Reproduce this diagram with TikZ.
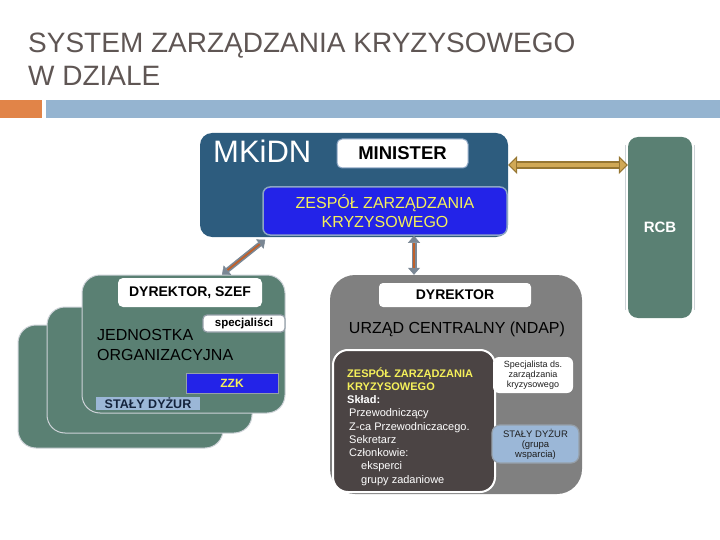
\documentclass[tikz,border=0pt]{standalone}
\usepackage{fontspec}
\setmainfont{Liberation Sans}
\usetikzlibrary{fit,arrows.meta}
\definecolor{titlegray}{RGB}{95,86,84}
\definecolor{orangebar}{RGB}{225,132,72}
\definecolor{bluebar}{RGB}{149,180,208}
\definecolor{mkblue}{RGB}{45,92,126}
\definecolor{edgeblue}{RGB}{140,165,195}
\definecolor{zzkblue}{RGB}{35,35,232}
\definecolor{zzkyellow}{RGB}{245,240,90}
\definecolor{unitteal}{RGB}{90,128,115}
\definecolor{unitedge}{RGB}{205,210,215}
\definecolor{edgegray}{RGB}{150,160,170}
\definecolor{lightblue}{RGB}{155,183,215}
\definecolor{navy}{RGB}{20,35,60}
\definecolor{urzadgray}{RGB}{128,128,128}
\definecolor{darkbox}{RGB}{75,68,68}
\definecolor{textdark}{RGB}{30,30,30}
\definecolor{linkgray}{RGB}{122,135,148}
\definecolor{linkbrown}{RGB}{192,96,42}
\definecolor{goldedge}{RGB}{150,118,50}
\definecolor{goldfill}{RGB}{208,168,85}
\newcommand{\sz}[2]{\fontsize{#1}{#2}\selectfont}
\begin{document}
\begin{tikzpicture}[x=1pt,y=-1pt,
		box/.style={inner sep=0pt,rounded corners=#1},box/.default=0pt,
		lbl/.style={inner sep=0pt,align=center},
		unit/.style={box=18pt,fill=unitteal,draw=unitedge,line width=1pt},
		title/.style={inner sep=0pt,anchor=base west,text=titlegray,font=\sz{28}{32}},
		rcbline/.style={draw=unitedge,line width=0.8pt},
		link/.style={draw=linkgray,line width=5pt,
			>={Triangle[length=7pt,width=12pt,line width=0.5pt,fill=linkgray]},<->,
			postaction={draw=linkbrown,line width=1.8pt,-,shorten <=7pt,shorten >=7pt}},
		goldlink/.style={draw=goldedge,line width=8pt,
			>={Triangle[length=9pt,width=18pt,line width=1pt,fill=goldfill]},<->,
			postaction={draw=goldfill,line width=4pt,-,shorten <=9pt,shorten >=9pt}}]
	\useasboundingbox (0,0) rectangle (720,540);
	% naglowek
	\node[box,fill=orangebar,fit={(0,100) (42,118)}] (tab) {};
	\node[box,fill=bluebar,fit={(46,100) (720,118)}] (bar) {};
	\node[title] (title1) at (28,53) {SYSTEM ZARZĄDZANIA KRYZYSOWEGO};
	\node[title] (title2) at (28,86) {W DZIALE};
	% ministerstwo
	\node[box=12pt,fill=mkblue,fit={(200,133) (508,237)}] (mkidn) {};
	\node[anchor=base west,inner sep=0pt,text=white,font=\sz{31}{36}] (mkidnlbl) at (213,163) {MKiDN};
	\node[box=5pt,fill=white,draw=edgeblue,line width=1pt,fit={(337,139) (468,168)}] (minister) {};
	\node[lbl,font=\bfseries\sz{18.5}{22}] (ministerlbl) at (minister.center) {MINISTER};
	\node[box=7pt,fill=zzkblue,draw=edgeblue,line width=1.5pt,fit={(263,187) (507,235)}] (zzk) {};
	\node[lbl,text=zzkyellow,font=\sz{16}{19}] (zzklbl) at (zzk.center) {ZESPÓŁ ZARZĄDZANIA\\KRYZYSOWEGO};
	% rcb
	\node[box=10pt,fill=unitteal,fit={(628,137) (692,318)}] (rcb) {};
	\node[lbl,text=white,font=\bfseries\sz{15}{18}] (rcblbl) at (rcb.center) {RCB};
	\draw[rcbline] ([xshift=-2pt,yshift=-8pt]rcb.north west) -- ([xshift=-2pt,yshift=8pt]rcb.south west);
	\draw[rcbline] ([xshift=2pt,yshift=-8pt]rcb.north east) -- ([xshift=2pt,yshift=8pt]rcb.south east);
	\coordinate (g) at (0,165);
	\draw[goldlink] (mkidn.east |- g) -- (rcb.west |- g);
	% jednostki organizacyjne
	\node[unit,fit={(18,325) (223,448)}] (unit3) {};
	\node[unit,fit={(47,307) (252,433)}] (unit2) {};
	\node[unit,fit={(82,275) (285,413)}] (unit1) {};
	\node[box=5pt,fill=white,fit={(118,278) (262,307)}] (szef) {};
	\node[lbl,font=\bfseries\sz{14}{17}] (szeflbl) at (szef.center) {DYREKTOR, SZEF};
	\node[box=4pt,fill=white,draw=edgegray,line width=1.2pt,fit={(203,315) (285,332)}] (spec) {};
	\node[lbl,font=\bfseries\sz{11.5}{14}] (speclbl) at (spec.center) {specjaliści};
	\node[anchor=base west,inner sep=0pt,align=left,font=\sz{16}{20}] (unitlbl) at (97,360) {JEDNOSTKA\\ORGANIZACYJNA};
	\node[box,fill=zzkblue,draw=edgegray,line width=0.8pt,fit={(186,373) (278,393)}] (zzkunit) {};
	\node[lbl,text=zzkyellow,font=\bfseries\sz{12}{14}] (zzkunitlbl) at (zzkunit.center) {ZZK};
	\node[box,fill=lightblue,fit={(96,397) (200,410)}] (dyzunit) {};
	\node[lbl,text=navy,font=\bfseries\sz{12.5}{14}] (dyzunitlbl) at (dyzunit.center) {STAŁY DYŻUR};
	% urzad centralny
	\node[box=25pt,fill=urzadgray,fit={(330,275) (582,494)}] (urzad) {};
	\node[box=4pt,fill=white,fit={(379,283) (531,307)}] (dyr) {};
	\node[lbl,font=\bfseries\sz{14}{17}] (dyrlbl) at (dyr.center) {DYREKTOR};
	\node[anchor=base,inner sep=0pt,font=\sz{16}{19}] (urzadlbl) at (457,333) {URZĄD CENTRALNY (NDAP)};
	\node[box=15pt,fill=darkbox,draw=white,line width=2pt,fit={(333,350) (495,492)}] (zzkurz) {};
	\node[anchor=base west,inner sep=0pt,align=left,text=white,font=\sz{11}{13.25}] (zzkurzlbl) at (347,483)
		{\textcolor{zzkyellow}{\bfseries ZESPÓŁ ZARZĄDZANIA}\\
		\textcolor{zzkyellow}{\bfseries KRYZYSOWEGO}\\
		\textbf{Skład:}\\
		\hspace{2pt}Przewodniczący\\
		\hspace{2pt}Z-ca Przewodniczacego.\\
		\hspace{2pt}Sekretarz\\
		\hspace{2pt}Członkowie:\\
		\hspace{14pt}eksperci\\
		\hspace{14pt}grupy zadaniowe};
	\node[box=6pt,fill=white,fit={(493,357) (573,393)}] (specurz) {};
	\node[lbl,text=textdark,font=\sz{9}{10}] (specurzlbl) at (specurz.center) {Specjalista ds.\\zarządzania\\kryzysowego};
	\node[box=8pt,fill=lightblue,draw=edgegray,line width=1.2pt,fit={(492,425) (579,463)}] (dyzurz) {};
	\node[lbl,text=textdark,font=\sz{9.5}{10}] (dyzurzlbl) at (dyzurz.center) {STAŁY DYŻUR\\(grupa\\wsparcia)};
	% powiazania
	\draw[link] ([xshift=38.5pt]unit1.north) -- ([xshift=3pt,yshift=-4pt]zzk.south west);
	\coordinate (v) at (414,0);
	\draw[link] (zzk.south -| v) -- (urzad.north -| v);
\end{tikzpicture}
\end{document}
